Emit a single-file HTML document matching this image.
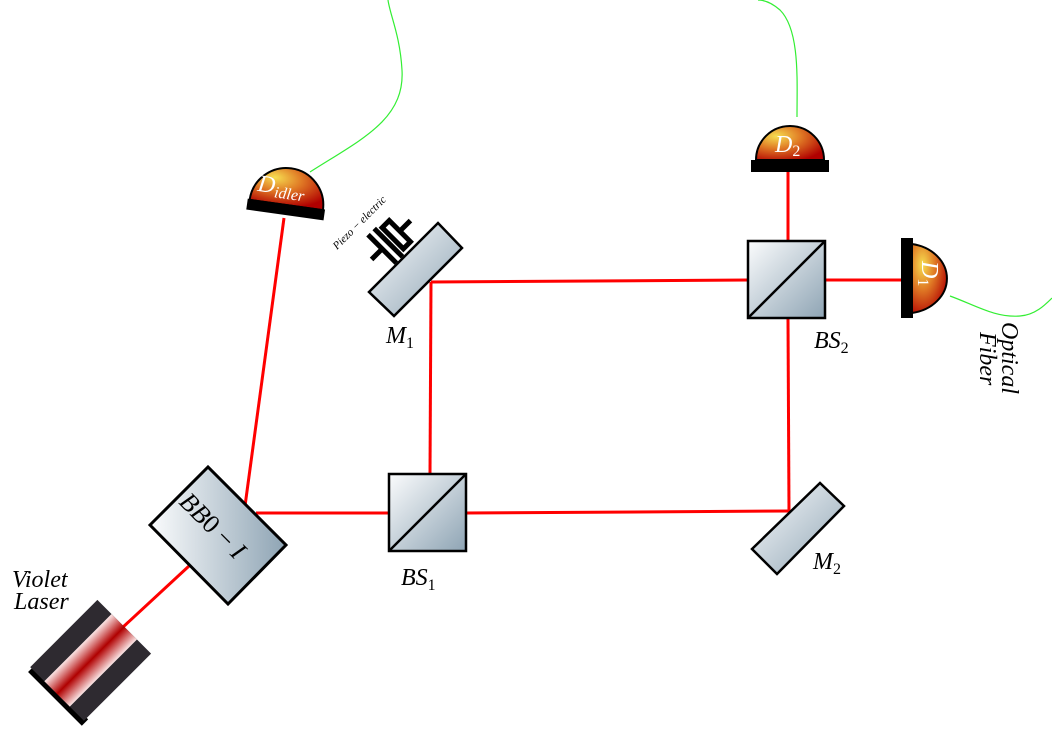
<!DOCTYPE html>
<html><head><meta charset="utf-8"><style>
html,body{margin:0;padding:0;background:#fff;}
svg{display:block;}
text{font-family:"Liberation Serif",serif;font-style:italic;}
tspan.n{font-style:normal;}
</style></head><body>
<svg width="1052" height="744" viewBox="0 0 1052 744">
<defs>
<linearGradient id="comp" x1="0" y1="0" x2="1" y2="1">
<stop offset="0" stop-color="#fbfcfd"/><stop offset="1" stop-color="#8ea4b4"/></linearGradient>
<linearGradient id="compH" x1="0" y1="0" x2="1" y2="0">
<stop offset="0" stop-color="#fbfcfd"/><stop offset="1" stop-color="#8ea4b4"/></linearGradient>
<radialGradient id="dome" cx="0.3" cy="0.3" r="0.8">
<stop offset="0" stop-color="#f6dd50"/><stop offset="0.45" stop-color="#e07a25"/><stop offset="1" stop-color="#b00000"/></radialGradient>
<linearGradient id="laserStripe" x1="0" y1="0" x2="1" y2="0">
<stop offset="0" stop-color="#fbe6e6"/><stop offset="0.5" stop-color="#b00000"/><stop offset="1" stop-color="#fbe6e6"/></linearGradient>
</defs>

<g fill="none" stroke="#33ee33" stroke-width="1.2">
<path d="M310,172 C360,140 405,120 402,70 C400,35 390,15 388,0"/>
<path d="M797,117 C797,80 800,30 780,10 C772,3 765,0 758,0"/>
<path d="M950,296 C975,305 995,318 1020,316 C1035,315 1045,305 1052,298"/>
</g>

<g stroke="#ff0000" stroke-width="3" fill="none">
<line x1="122" y1="628" x2="189" y2="566"/>
<line x1="245" y1="506" x2="284" y2="218"/>
<line x1="256" y1="513" x2="389" y2="513"/>
<line x1="466" y1="513" x2="790" y2="511"/>
<line x1="430" y1="474" x2="431" y2="282"/>
<line x1="431" y1="282" x2="748" y2="280"/>
<line x1="789" y1="512" x2="788" y2="319"/>
<line x1="788" y1="241" x2="788" y2="170"/>
<line x1="826" y1="280" x2="902" y2="280"/>
</g>

<g transform="translate(91,660) rotate(45)">
<rect x="-36" y="44" width="76" height="9" fill="#000"/>
<rect x="-38" y="-47" width="76" height="95" fill="#2e2a30"/>
<rect x="-18" y="-47" width="36" height="95" fill="url(#laserStripe)"/>
</g>
<text x="12" y="587" font-size="24">Violet</text>
<text x="14" y="609" font-size="24">Laser</text>

<g>
<polygon points="150,525 208,467 286,545 228,604" fill="url(#compH)" stroke="#000" stroke-width="3"/>
<text font-size="26" transform="translate(178,503) rotate(45)">BB<tspan class="n">0 − </tspan>I</text>
</g>

<g>
<rect x="389" y="474" width="77" height="77" fill="url(#comp)" stroke="#000" stroke-width="2.5"/>
<line x1="389" y1="551" x2="466" y2="474" stroke="#000" stroke-width="2.5"/>
<text x="401" y="585" font-size="24">BS<tspan class="n" font-size="16" dy="5">1</tspan></text>
</g>

<g>
<rect x="748" y="241" width="77" height="77" fill="url(#comp)" stroke="#000" stroke-width="2.5"/>
<line x1="748" y1="318" x2="825" y2="241" stroke="#000" stroke-width="2.5"/>
<text x="814" y="348" font-size="24">BS<tspan class="n" font-size="16" dy="5">2</tspan></text>
</g>

<g>
<polygon points="369,292 438,223 462,248 394,316" fill="url(#comp)" stroke="#000" stroke-width="2.5"/>
<text x="386" y="343" font-size="24">M<tspan class="n" font-size="16" dy="5">1</tspan></text>
</g>

<g>
<polygon points="752,549 820,483 844,506 777,574" fill="url(#comp)" stroke="#000" stroke-width="2.5"/>
<text x="813" y="569" font-size="24">M<tspan class="n" font-size="16" dy="5">2</tspan></text>
</g>

<g transform="translate(391,240) rotate(45) scale(1.25)" stroke="#000" stroke-width="4" fill="none">
<line x1="0" y1="-22" x2="0" y2="-10"/>
<rect x="-12" y="-10" width="24" height="8"/>
<line x1="-16" y1="3" x2="16" y2="3"/>
<line x1="-16" y1="10" x2="16" y2="10"/>
<line x1="0" y1="10" x2="0" y2="22"/>
</g>
<text font-size="11" transform="translate(337,250) rotate(-45)">Piezo − electric</text>

<g transform="translate(286,207) rotate(8)">
<path d="M-37,-2 A37,37 0 0 1 37,-2 Z" fill="url(#dome)" stroke="#000" stroke-width="2"/>
<rect x="-39" y="-3" width="78" height="11" fill="#000"/>
<text x="-31" y="-12" font-size="24" fill="#fff">D<tspan font-size="16" dy="4">idler</tspan></text>
</g>

<g>
<path d="M756,160 A34,34 0 0 1 824,160 Z" fill="url(#dome)" stroke="#000" stroke-width="2"/>
<rect x="751" y="160" width="78" height="12" fill="#000"/>
<text x="775" y="152" font-size="24" fill="#fff">D<tspan class="n" font-size="16" dy="4">2</tspan></text>
</g>

<g>
<path d="M912,244 A42,35 0 0 1 912,313 Z" fill="url(#dome)" stroke="#000" stroke-width="2"/>
<rect x="901" y="238" width="12" height="80" fill="#000"/>
<text font-size="24" fill="#fff" transform="translate(922,261) rotate(90)">D<tspan class="n" font-size="16" dy="4">1</tspan></text>
</g>

<text font-size="24" transform="translate(1002,322) rotate(90)">Optical</text>
<text font-size="24" transform="translate(980,332) rotate(90)">Fiber</text>
</svg>
</body></html>
